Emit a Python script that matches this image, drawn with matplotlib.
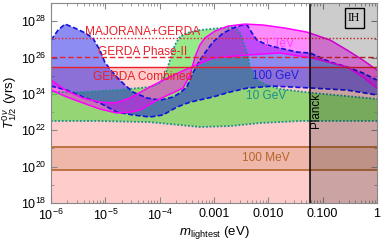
import numpy as np
import matplotlib
matplotlib.use("Agg")
import matplotlib.pyplot as plt

plt.rcParams['font.family'] = ['Liberation Sans', 'DejaVu Sans']
plt.rcParams['mathtext.fontset'] = 'custom'
plt.rcParams['mathtext.rm'] = 'Liberation Sans'
plt.rcParams['mathtext.it'] = 'Liberation Sans:italic'

# all values are log10(m / eV) and log10(T / yr)

# 100 GeV band (blue, dashed edges)
blue_up_m = [-6.00, -5.87, -5.74, -5.56, -5.37, -5.23, -5.10, -5.01, -4.90, -4.79, -4.64, -4.49,
             -4.23, -3.99, -3.75, -3.63, -3.50, -3.39, -3.26, -3.13, -3.02, -2.83, -2.65, -2.48,
             -2.39, -2.30, -2.21, -2.02, -1.79, -1.47, -1.23, -0.86, -0.55, -0.26, 0.00]
blue_up_t = [26.96, 27.51, 27.84, 27.62, 27.35, 27.07, 26.41, 25.75, 25.31, 24.93, 24.49, 24.10,
             23.77, 23.66, 23.83, 24.05, 24.38, 25.15, 25.86, 26.41, 26.85, 27.35, 27.62, 27.79,
             27.79, 27.35, 26.96, 26.69, 26.52, 26.30, 26.25, 25.75, 25.48, 25.15, 24.76]
blue_lo_m = [-6.00, -5.71, -5.41, -5.10, -4.79, -4.49, -4.18, -3.94, -3.68, -3.44, -3.02, -2.71,
             -2.39, -1.91, -1.18, -0.55, 0.00]
blue_lo_t = [24.43, 24.21, 23.83, 23.50, 23.00, 22.84, 22.73, 22.84, 23.28, 23.55, 23.83, 24.10,
             24.32, 24.43, 24.32, 24.21, 23.94]

# 1 TeV band (magenta, solid edges) - the two edges cross near 5e-4 eV
mag_a_m = [-6.00, -5.71, -5.41, -5.10, -4.82, -4.55, -4.18, -3.86, -3.50, -3.02, -2.39, -1.79,
           -1.18, -0.55, -0.26, 0.00]
mag_a_t = [24.76, 24.16, 23.77, 23.55, 23.50, 23.77, 24.38, 24.87, 25.37, 25.97, 26.14, 26.25,
           25.97, 25.48, 24.93, 24.32]
mag_b_m = [-6.00, -5.71, -5.41, -5.10, -4.79, -4.55, -4.36, -4.05, -3.81, -3.57, -3.44, -3.35,
           -3.26, -3.17, -2.98, -2.74, -2.43, -2.10, -1.69, -1.29, -0.86, -0.55, -0.26, 0.00]
mag_b_t = [24.21, 23.83, 23.50, 23.17, 22.95, 23.00, 23.11, 23.66, 23.99, 24.32, 25.04, 26.03,
           26.69, 27.07, 27.46, 27.73, 27.84, 27.79, 27.62, 27.40, 26.96, 26.41, 25.86, 25.31]

# 10 GeV band (green, dotted edges)
grn_up_m = [-6.00, -5.41, -4.79, -4.18, -3.99, -3.90, -3.81, -3.72, -3.63, -3.50, -3.26, -2.89,
            -2.61, -2.52, -2.39, -2.34, -2.21, -2.02, -1.79, -1.18, -0.55, 0.00]
grn_up_t = [24.10, 24.10, 24.21, 24.38, 24.60, 25.04, 25.86, 26.69, 27.13, 27.35, 27.51, 27.62,
            27.68, 27.35, 26.25, 25.48, 24.76, 24.49, 24.27, 24.05, 23.88, 23.72]
grn_lo_m = [-6.00, -5.10, -4.18, -3.63, -3.26, -2.71, -2.15, -1.42, 0.00]
grn_lo_t = [22.51, 22.51, 22.45, 22.29, 22.18, 22.23, 22.40, 22.51, 22.51]

# 100 MeV band (horizontal)
mev_lo, mev_up = 19.81, 21.08

# experimental limits
lim_names = ['MAJORANA+GERDA', 'GERDA Phase-II', 'GERDA Combined']
lim_t = [27.07, 26.03, 25.48]
lim_styles = [(0, (1, 1.5)), (0, (4, 2)), '-']
lim_text_t = [27.40, 26.30, 24.95]

planck_m = -1.23

fig = plt.figure(figsize=(3.82, 2.44), dpi=100)
ax = fig.add_axes([0.1335, 0.168, 0.8534, 0.8197])
ax.set_xscale('log')
ax.set_yscale('log')
ax.set_xlim(1e-6, 1)
ax.set_ylim(1e18, 1e29)

def p(v):
    return 10.0 ** np.asarray(v, dtype=float)

# excluded region below GERDA combined
ax.axhspan(1e18, p(lim_t[2]), color='#ffcccc', lw=0, zorder=0)
ax.axhspan(p(mev_lo), p(mev_up), color='#c8875a', alpha=0.3, lw=0, zorder=1)
for v in (mev_lo, mev_up):
    ax.axhline(p(v), color='#b5652a', lw=1.2, zorder=2)

def band(xu, yu, xl, yl, fc, a, ec, ls, lw):
    ax.fill(np.r_[p(xu), p(xl)[::-1]], np.r_[p(yu), p(yl)[::-1]], color=fc, alpha=a, lw=0, zorder=2)
    ax.plot(p(xu), p(yu), color=ec, ls=ls, lw=lw, zorder=3)
    ax.plot(p(xl), p(yl), color=ec, ls=ls, lw=lw, zorder=3)

band(grn_up_m, grn_up_t, grn_lo_m, grn_lo_t, '#50dc3c', 0.6, '#1a8f8f', (0, (1, 1)), 1.3)
band(blue_up_m, blue_up_t, blue_lo_m, blue_lo_t, '#0000e6', 0.45, '#1010e0', (0, (3, 1.5)), 1.2)
band(mag_a_m, mag_a_t, mag_b_m, mag_b_t, '#ff00ff', 0.45, '#ff00ff', '-', 1.1)

for t, s in zip(lim_t, lim_styles):
    ax.axhline(p(t), color='#e8202a', ls=s, lw=1.0, zorder=4)
for name, t in zip(lim_names, lim_text_t):
    ax.text(p(-4.31), p(t), name, color='#e8202a', fontsize=8.6, ha='center', va='center', zorder=6)

# Planck bound
ax.axvspan(p(planck_m), 1, color='k', alpha=0.2, lw=0, zorder=5)
ax.axvline(p(planck_m), color='k', lw=1.1, zorder=6)
ax.text(p(-1.12), p(23.11), 'Planck', rotation=90, fontsize=8.4, ha='center', va='center', zorder=6)

ax.text(p(-1.81), p(26.72), '1 TeV', color='#ff40ff', fontsize=8.6, ha='center', va='center', zorder=6)
ax.text(p(-1.86), p(25.0), '100 GeV', color='#2020d8', fontsize=8.6, ha='center', va='center', zorder=6)
ax.text(p(-2.04), p(23.88), '10 GeV', color='#1a8f8f', fontsize=8.6, ha='center', va='center', zorder=6)
ax.text(p(-2.04), p(20.45), '100 MeV', color='#b5652a', fontsize=8.6, ha='center', va='center', zorder=6)

ax.text(0.93, 0.925, 'IH', transform=ax.transAxes, family='Liberation Serif', fontsize=8.5,
        ha='center', va='center', zorder=7,
        bbox=dict(boxstyle='square,pad=0.3', fc='none', ec='k', lw=1.0))

ax.set_xticks([1e-6, 1e-5, 1e-4, 1e-3, 1e-2, 1e-1, 1])
ax.set_xticklabels(['$10^{-6}$', '$10^{-5}$', '$10^{-4}$', '0.001', '0.010', '0.100', '1'])
ax.set_yticks(p([18, 20, 22, 24, 26, 28]))
ax.set_yticklabels(['$10^{%d}$' % k for k in [18, 20, 22, 24, 26, 28]])
ax.yaxis.set_minor_locator(matplotlib.ticker.FixedLocator(p(range(18, 30))))
ax.yaxis.set_minor_formatter(matplotlib.ticker.NullFormatter())
ax.tick_params(which='both', direction='in', top=True, right=True, labelsize=9, color='#888888')
ax.tick_params(which='major', length=4)
ax.tick_params(which='minor', length=2)
ax.tick_params(axis='x', pad=3.5)
for s in ax.spines.values():
    s.set_color('#888888')
    s.set_linewidth(0.8)
    s.set_zorder(8)

ax.set_xlabel('$m_{\\mathrm{lightest}}$ (eV)', fontsize=9.5, labelpad=0.5)
ax.set_ylabel('$T^{0\\nu}_{1/2}$ (yrs)', fontsize=9.5, labelpad=1)

fig.savefig('out.png', dpi=100)
